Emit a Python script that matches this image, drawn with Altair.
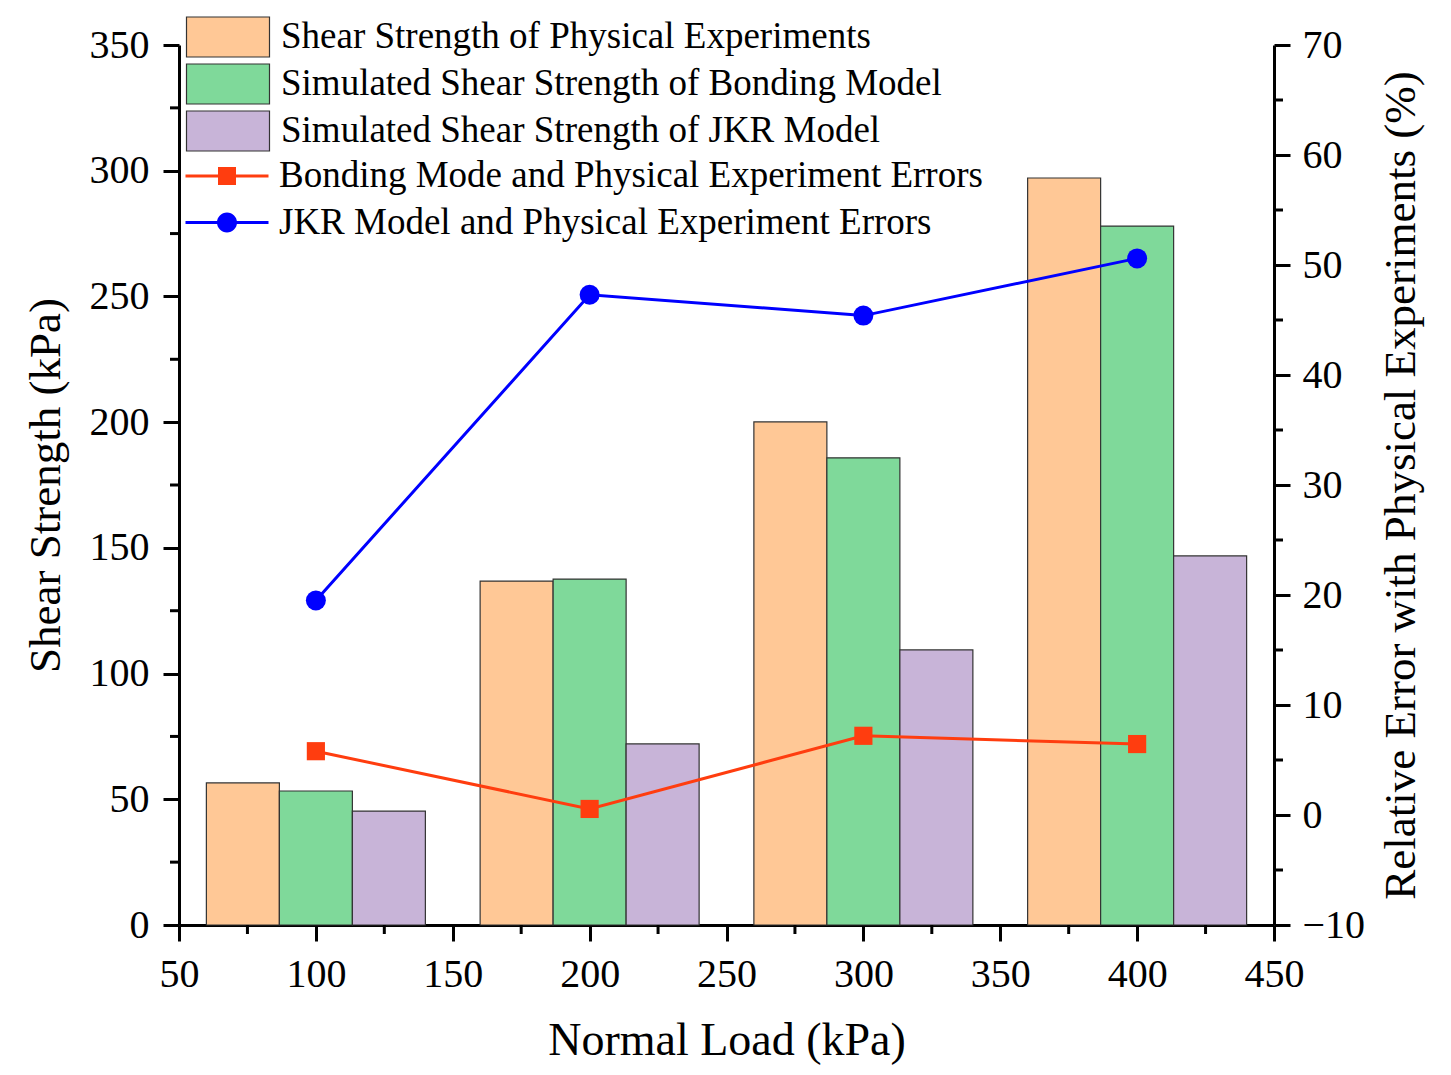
import altair as alt
import pandas as pd

# ---------------- data ----------------
loads = [100, 200, 300, 400]
physical = [56.5, 136.8, 200.1, 297.1]
bonding = [53.3, 137.6, 185.8, 278.0]
jkr = [45.3, 72.0, 109.4, 146.8]
err_bonding = [5.8, 0.55, 7.2, 6.45]
err_jkr = [19.5, 47.3, 45.4, 50.6]

bar_series = [
    "Shear Strength of Physical Experiments",
    "Simulated Shear Strength of Bonding Model",
    "Simulated Shear Strength of JKR Model",
]
line_series = [
    "Bonding Mode and Physical Experiment Errors",
    "JKR Model and Physical Experiment Errors",
]
bar_colors = ["#FFC896", "#7FD99A", "#C8B4D8"]
line_colors = ["#FF3D0F", "#0000FF"]

x_ticks = [50, 100, 150, 200, 250, 300, 350, 400, 450]
x_minor = [75, 125, 175, 225, 275, 325, 375, 425]
left_ticks = [0, 50, 100, 150, 200, 250, 300, 350]
left_minor = [25, 75, 125, 175, 225, 275, 325]
right_ticks = [-10, 0, 10, 20, 30, 40, 50, 60, 70]
right_minor = [-5, 5, 15, 25, 35, 45, 55, 65]

FONT = "Liberation Serif"
W, H = 1095, 880

bars_df = pd.DataFrame(
    [
        {"series": s, "idx": i, "load": l, "value": v}
        for i, (s, vals) in enumerate(zip(bar_series, [physical, bonding, jkr]))
        for l, v in zip(loads, vals)
    ]
)
lines_df = pd.DataFrame(
    [
        {"series": s, "load": l, "err": v}
        for s, vals in zip(line_series, [err_bonding, err_jkr])
        for l, v in zip(loads, vals)
    ]
)

xscale = alt.Scale(domain=[50, 450], nice=False, zero=False)
yl_scale = alt.Scale(domain=[0, 350], nice=False)
yr_scale = alt.Scale(domain=[-10, 70], nice=False, zero=False)

axis_common = dict(
    labelFont=FONT, titleFont=FONT, labelColor="black", titleColor="black",
    domainColor="black", tickColor="black", domainWidth=3, tickWidth=3,
    tickSize=16, grid=False, labelFontWeight="normal", titleFontWeight="normal",
    labelFlush=False, labelOverlap=False,
)

x_axis = alt.Axis(values=x_ticks, title="Normal Load (kPa)", labelFontSize=40,
                  titleFontSize=46, labelPadding=13, titlePadding=24, **axis_common)
yl_axis = alt.Axis(values=left_ticks, title="Shear Strength (kPa)", labelFontSize=40,
                   titleFontSize=45, labelPadding=14, titlePadding=21, **axis_common)
yr_axis = alt.Axis(values=right_ticks, orient="right",
                   title="Relative Error with Physical Experiments (%)",
                   labelFontSize=40, titleFontSize=45, labelPadding=12, titlePadding=14,
                   titleAngle=270, titleBaseline="top", **axis_common)

# ---------------- left (bars) ----------------
bars = (
    alt.Chart(bars_df)
    .transform_calculate(
        x0="datum.load - 40 + datum.idx * 80 / 3",
        x1="datum.load - 40 + (datum.idx + 1) * 80 / 3",
        base="0",
    )
    .mark_bar(stroke="#333333", strokeWidth=1.2)
    .encode(
        x=alt.X("x0:Q", scale=xscale, axis=x_axis),
        x2="x1:Q",
        y=alt.Y("value:Q", scale=yl_scale, axis=yl_axis),
        y2="base:Q",
        fill=alt.Fill(
            "series:N",
            scale=alt.Scale(domain=bar_series, range=bar_colors),
            legend=alt.Legend(
                orient="none", legendX=28, legendY=-29, title=None, padding=0,
                symbolType="M-2.075,-1H2.075V1H-2.075Z", symbolSize=1600,
                symbolStrokeColor="#333333", symbolStrokeWidth=1.2, symbolOpacity=1,
                labelFont=FONT, labelFontSize=37, labelColor="black", labelOffset=32,
                rowPadding=1, labelLimit=900,
            ),
        ),
    )
)

left_minor_ticks = (
    alt.Chart(pd.DataFrame({"value": left_minor}))
    .mark_rule(color="black", strokeWidth=3)
    .encode(y=alt.Y("value:Q", scale=yl_scale, axis=yl_axis), x=alt.value(-9), x2=alt.value(0))
)
x_minor_ticks = (
    alt.Chart(pd.DataFrame({"x0": x_minor}))
    .mark_rule(color="black", strokeWidth=3)
    .encode(x=alt.X("x0:Q", scale=xscale, axis=x_axis), y=alt.value(H), y2=alt.value(H + 9))
)

left_layer = alt.layer(bars, left_minor_ticks, x_minor_ticks)

# ---------------- right (lines) ----------------
base = alt.Chart(lines_df)
xl = alt.X("load:Q", scale=xscale, axis=x_axis)
yr = alt.Y("err:Q", scale=yr_scale, axis=yr_axis)
color_scale = alt.Scale(domain=line_series, range=line_colors)

line_legend = alt.Legend(
    orient="none", legendX=28, legendY=111, title=None, padding=0,
    symbolSize=1600, symbolStrokeWidth=0, symbolOpacity=1,
    labelFont=FONT, labelFontSize=37, labelColor="black", labelOffset=32,
    rowPadding=8.5, labelLimit=900,
)
square_path = "M-2.075,-0.075H-0.45V-0.45H0.45V-0.075H2.075V0.075H0.45V0.45H-0.45V0.075H-2.075Z"
circle_path = ("M-2.075,-0.075H2.075V0.075H-2.075Z "
               "M0.5,0A0.5,0.5,0,1,1,-0.5,0A0.5,0.5,0,1,1,0.5,0Z")
color_enc = alt.Color("series:N", scale=color_scale, legend=line_legend)

lines = base.mark_line(strokeWidth=3).encode(x=xl, y=yr, color=color_enc)
squares = (
    base.transform_filter(alt.datum.series == line_series[0])
    .mark_square(size=330, opacity=1)
    .encode(x=xl, y=yr, color=color_enc)
)
circles = (
    base.transform_filter(alt.datum.series == line_series[1])
    .mark_circle(size=400, opacity=1)
    .encode(x=xl, y=yr, color=color_enc)
)
legend_layer = base.mark_point(filled=True, opacity=0).encode(
    x=xl,
    y=yr,
    color=color_enc,
    shape=alt.Shape("series:N", scale=alt.Scale(domain=line_series, range=[square_path, circle_path]),
                    legend=line_legend),
)

right_minor_ticks = (
    alt.Chart(pd.DataFrame({"err": right_minor}))
    .mark_rule(color="black", strokeWidth=3)
    .encode(y=yr, x=alt.value(W), x2=alt.value(W + 9))
)

right_layer = alt.layer(lines, squares, circles, legend_layer, right_minor_ticks)

chart = (
    alt.layer(left_layer, right_layer)
    .resolve_scale(y="independent")
    .properties(
        width=W, height=H,
        autosize=alt.AutoSizeParams(type="none"),
        padding={"left": 171, "top": 37, "right": 169, "bottom": 140},
        background="white",
    )
    .configure_view(stroke=None)
)

chart.save("out.html", embed_options={"renderer": "svg", "actions": False})
